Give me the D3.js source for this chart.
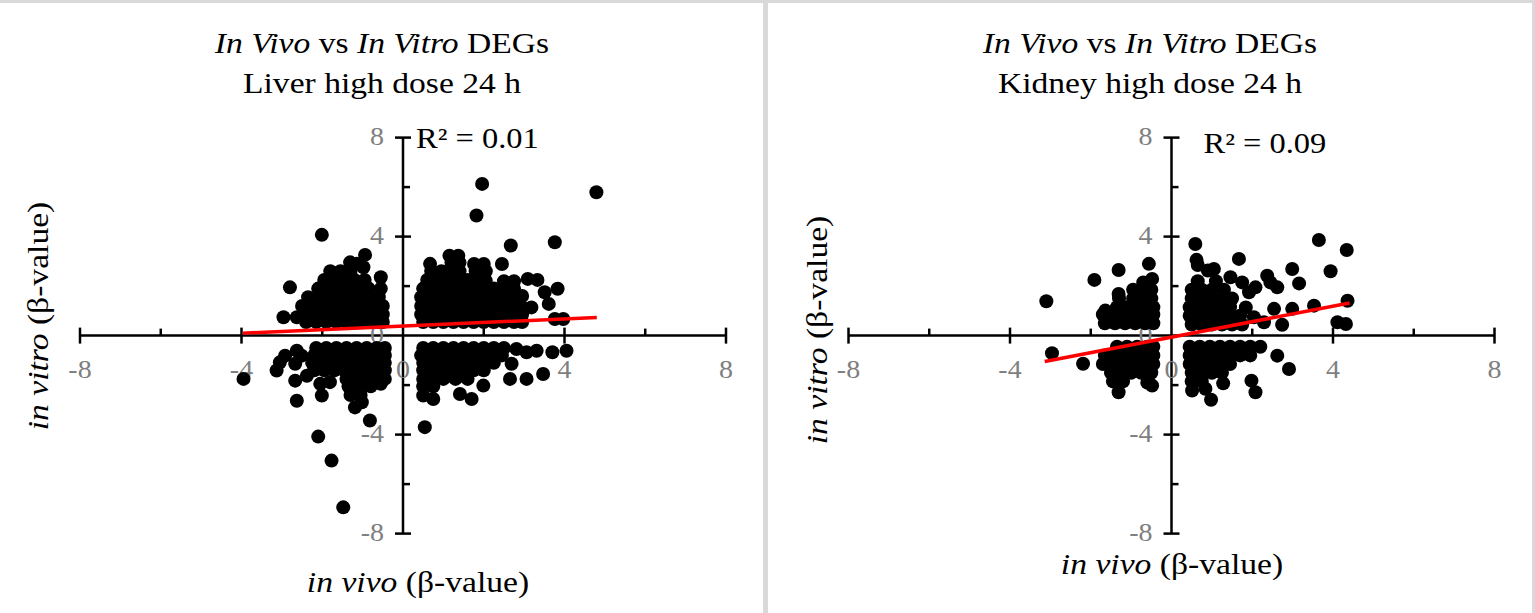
<!DOCTYPE html>
<html>
<head>
<meta charset="utf-8">
<script src="https://cdn.jsdelivr.net/npm/d3@7"></script>
<style>
    body{ margin:0; background:#fff; }
    svg text{ font-family:'Liberation Serif','Times New Roman',serif; }
</style>
</head>
<body>
<svg id="chart" width="1535" height="613"></svg>
<script>
// tick values shared by both panels
var labelTicks = [-8, -4, 0, 4, 8],
    minorTicks = [-6, -2, 2, 6],
    majorTicks = [-8, -4, 4, 8];

// liver high dose 24 h : [in vivo, in vitro]
var liverPoints = [
    [-2.40,0.55],[-2.15,0.55],[-1.90,0.55],[-1.65,0.55],[-1.40,0.55],[-1.15,0.55],[-0.90,0.55],[-0.65,0.55],[-0.50,0.55],
    [-2.45,0.85],[-2.20,0.85],[-1.95,0.85],[-1.70,0.85],[-1.45,0.85],[-1.20,0.85],[-0.95,0.85],[-0.70,0.85],[-0.50,0.85],
    [-2.50,1.20],[-2.25,1.20],[-2.00,1.20],[-1.75,1.20],[-1.50,1.20],[-1.25,1.20],[-1.00,1.20],[-0.75,1.20],[-0.50,1.20],
    [-2.35,1.55],[-2.10,1.55],[-1.85,1.55],[-1.60,1.55],[-1.35,1.55],[-1.10,1.55],[-0.85,1.55],[-0.60,1.55],
    [-2.10,1.90],[-1.85,1.90],[-1.60,1.90],[-1.35,1.90],[-1.10,1.90],[-0.85,1.90],[-0.55,1.90],
    [-1.95,2.25],[-1.70,2.25],[-1.45,2.25],[-1.20,2.25],[-0.95,2.25],[-0.55,2.36],
    [-1.80,2.60],[-1.55,2.60],[-1.30,2.60],[-0.98,2.76],
    [-1.31,2.96],[-1.15,2.90],[-0.94,3.26],
    [-2.96,0.74],[-2.63,0.74],[-2.80,1.95],[-2.01,4.07],
    [0.50,0.55],[0.75,0.55],[1.00,0.55],[1.25,0.55],[1.50,0.55],[1.75,0.55],[2.00,0.55],[2.25,0.55],[2.50,0.55],[2.75,0.55],[2.95,0.55],
    [0.45,0.85],[0.70,0.85],[0.95,0.85],[1.20,0.85],[1.45,0.85],[1.70,0.85],[1.95,0.85],[2.20,0.85],[2.45,0.85],[2.70,0.85],[2.95,0.85],
    [0.45,1.20],[0.70,1.20],[0.95,1.20],[1.20,1.20],[1.45,1.20],[1.70,1.20],[1.95,1.20],[2.20,1.20],[2.45,1.20],[2.70,1.20],[2.92,1.20],
    [0.45,1.55],[0.70,1.55],[0.95,1.55],[1.20,1.55],[1.45,1.55],[1.70,1.55],[1.95,1.55],[2.20,1.55],[2.45,1.55],[2.70,1.55],[2.95,1.60],
    [0.50,1.90],[0.75,1.90],[1.00,1.90],[1.25,1.90],[1.50,1.90],[1.75,1.90],[2.00,1.90],[2.25,1.90],[2.50,1.90],[2.75,1.90],
    [0.60,2.25],[0.85,2.25],[1.10,2.25],[1.35,2.25],[1.60,2.25],[1.85,2.25],[2.05,2.22],[2.50,2.20],[2.75,2.20],
    [0.70,2.60],[0.95,2.60],[1.15,2.65],[1.40,2.60],[1.80,2.60],[2.05,2.60],
    [0.67,2.90],[1.20,2.95],[1.40,2.95],[1.76,2.89],[2.00,2.89],[2.45,2.89],
    [1.15,3.23],[1.37,3.23],
    [1.96,6.13],[1.82,4.85],[2.67,3.64],[3.76,3.77],[4.79,5.79],[3.09,2.29],[3.33,2.25],[3.51,1.75],
    [3.83,1.89],[3.61,1.28],[3.18,1.14],[3.76,0.67],[3.97,0.67],
    [-2.15,-0.50],[-1.90,-0.50],[-1.65,-0.50],[-1.40,-0.50],[-1.15,-0.50],[-0.90,-0.50],[-0.65,-0.50],[-0.45,-0.50],
    [-2.20,-0.80],[-1.95,-0.80],[-1.70,-0.80],[-1.45,-0.80],[-1.20,-0.80],[-0.95,-0.80],[-0.70,-0.80],[-0.45,-0.80],
    [-2.25,-1.10],[-2.00,-1.10],[-1.75,-1.10],[-1.50,-1.10],[-1.25,-1.10],[-1.00,-1.10],[-0.75,-1.10],[-0.45,-1.10],
    [-2.20,-1.40],[-1.95,-1.40],[-1.70,-1.40],[-1.45,-1.40],[-1.20,-1.40],[-0.95,-1.40],[-0.70,-1.40],[-0.45,-1.40],
    [-1.40,-1.75],[-1.15,-1.75],[-0.90,-1.75],[-0.65,-1.75],[-0.45,-1.75],
    [-1.35,-2.05],[-1.10,-2.05],[-0.80,-2.05],[-0.55,-1.95],
    [-1.30,-2.40],[-1.05,-2.40],
    [-3.95,-1.75],[-3.13,-1.41],[-3.05,-1.08],[-2.92,-0.81],[-2.63,-0.61],[-2.51,-0.81],[-2.67,-1.14],
    [-2.67,-1.82],[-2.38,-1.62],[-2.63,-2.63],[-2.10,-4.08],[-1.77,-5.05],[-1.48,-6.94],[-0.82,-3.43],
    [-1.19,-2.90],[-1.02,-2.69],[-2.01,-2.42],[-2.05,-1.95],[-1.81,-1.88],
    [0.50,-0.50],[0.75,-0.50],[1.00,-0.50],[1.25,-0.50],[1.50,-0.50],[1.75,-0.50],[2.00,-0.50],[2.25,-0.50],[2.50,-0.50],
    [0.45,-0.80],[0.70,-0.80],[0.95,-0.80],[1.20,-0.80],[1.45,-0.80],[1.70,-0.80],[1.95,-0.80],[2.20,-0.80],[2.45,-0.80],
    [0.50,-1.10],[0.75,-1.10],[1.00,-1.10],[1.25,-1.10],[1.50,-1.10],[1.75,-1.10],[2.00,-1.10],[2.25,-1.10],
    [0.50,-1.40],[0.75,-1.40],[1.00,-1.40],[1.25,-1.40],[1.50,-1.40],[1.75,-1.40],[2.00,-1.40],
    [0.50,-1.75],[0.75,-1.75],[1.00,-1.75],[1.30,-1.75],[1.60,-1.75],
    [0.50,-2.05],[0.75,-2.05],
    [0.54,-3.70],[2.81,-0.54],[3.06,-0.67],[3.31,-0.61],[3.70,-0.67],[4.05,-0.61],[2.65,-1.75],[3.06,-1.75],
    [3.47,-1.55],[2.69,-1.14],[1.99,-2.02],[1.70,-2.56],[1.41,-2.36],[0.75,-2.56],[0.50,-2.42]
];
var liverTrendX = [-3.97, 4.80],
    liverTrendY = [0.10, 0.73];

// kidney high dose 24 h : [in vivo, in vitro]
var kidneyPoints = [
    [-1.65,0.50],[-1.40,0.50],[-1.15,0.50],[-0.90,0.50],[-0.65,0.50],[-0.45,0.50],
    [-1.70,0.85],[-1.45,0.85],[-1.20,0.85],[-0.95,0.85],[-0.70,0.85],[-0.45,0.85],
    [-1.35,1.15],[-1.10,1.15],[-0.85,1.15],[-0.60,1.15],[-0.45,1.15],
    [-1.30,1.50],[-0.95,1.50],[-0.70,1.50],[-0.50,1.50],
    [-0.95,1.85],[-0.70,1.85],[-0.50,1.85],
    [-0.70,2.15],[-0.48,2.29],
    [-3.10,1.39],[-1.91,2.25],[-1.31,2.65],[-0.56,2.90],[-1.64,1.01],[-1.31,1.68],
    [0.50,0.45],[0.75,0.45],[1.00,0.45],[1.25,0.45],[1.50,0.45],[1.75,0.45],
    [0.45,0.80],[0.70,0.80],[0.95,0.80],[1.20,0.80],[1.45,0.80],[1.70,0.80],
    [0.45,1.15],[0.70,1.15],[0.95,1.15],[1.20,1.15],[1.45,1.15],
    [0.50,1.50],[0.75,1.50],[1.00,1.50],[1.25,1.50],[1.50,1.50],
    [0.50,1.85],[0.75,1.85],[1.00,1.85],[1.30,1.85],
    [0.65,2.20],[1.10,2.20],
    [0.59,3.70],[0.62,3.06],[0.65,2.85],[1.05,2.69],[0.90,2.63],[1.67,3.10],[1.46,2.36],[1.75,2.15],
    [2.37,2.42],[2.99,2.69],[3.65,3.86],[4.34,3.46],[3.94,2.60],[3.16,2.11],[2.62,1.95],[2.45,2.15],
    [2.08,1.95],[1.92,1.75],[1.84,1.14],[2.54,1.08],[2.99,1.08],[3.53,1.21],[4.36,1.41],[4.11,0.54],
    [4.32,0.47],[2.74,0.44],[2.29,0.54],[2.04,0.74],
    [-1.35,-0.45],[-1.10,-0.45],[-0.85,-0.45],[-0.60,-0.45],[-0.45,-0.45],
    [-1.65,-0.80],[-1.40,-0.80],[-1.15,-0.80],[-0.90,-0.80],[-0.65,-0.80],[-0.45,-0.80],
    [-1.70,-1.15],[-1.45,-1.15],[-1.20,-1.15],[-0.95,-1.15],[-0.70,-1.15],[-0.45,-1.15],
    [-1.50,-1.50],[-1.25,-1.50],[-1.00,-1.50],[-0.75,-1.50],[-0.50,-1.50],
    [-1.45,-1.85],[-1.20,-1.85],[-0.60,-1.90],
    [-2.96,-0.71],[-2.19,-1.14],[-1.31,-2.29],[-0.48,-2.02],
    [0.45,-0.45],[0.70,-0.45],[0.95,-0.45],[1.20,-0.45],[1.45,-0.45],[1.70,-0.45],[1.95,-0.45],[2.20,-0.45],
    [0.45,-0.80],[0.70,-0.80],[0.95,-0.80],[1.20,-0.80],[1.45,-0.80],[1.70,-0.80],[1.95,-0.80],
    [0.45,-1.15],[0.70,-1.15],[0.95,-1.15],[1.20,-1.15],[1.45,-1.15],
    [0.50,-1.50],[0.75,-1.50],[1.00,-1.50],[1.25,-1.50],
    [0.50,-1.85],[0.75,-1.85],
    [2.62,-0.81],[2.91,-1.35],[1.98,-1.82],[2.08,-2.29],[1.28,-1.93],[0.98,-2.59],[0.51,-2.22],[0.84,-2.15]
];
var kidneyTrendX = [-3.14, 4.41],
    kidneyTrendY = [-1.05, 1.32];

var panelTitles = ['Liver high dose 24 h', 'Kidney high dose 24 h'],
    r2Labels = ['R\u00b2 = 0.01', 'R\u00b2 = 0.09'];

var svg = d3.select( '#chart' ),
    STRETCH = 1.12,
    GREY = '#7f7f7f';

// text is slightly wider than plain Times in the original
function stretchedText( parent, tx, ty, rotate, anchor, size ){
    var g = parent.append( 'g' )
        .attr( 'transform', 'translate(' + tx + ',' + ty + ')' + ( rotate ? ' rotate(' + rotate + ')' : '' ) + ' scale(' + STRETCH + ',1)' );

    return g.append( 'text' )
        .attr( 'text-anchor', anchor )
        .attr( 'font-size', size );
}

function tickLines( g, cls, values, x1, x2, y1, y2 ){
    g.selectAll( 'line.' + cls ).data( values ).enter().append( 'line' )
        .attr( 'class', cls )
        .attr( 'x1', x1 ).attr( 'x2', x2 )
        .attr( 'y1', y1 ).attr( 'y2', y2 )
        .attr( 'stroke', '#000' ).attr( 'stroke-width', 2.5 );
}

function drawPanel( cfg ){
    var x = d3.scaleLinear().domain( [-8, 8] ).range( [cfg.left, cfg.left + 646] ),
        y = d3.scaleLinear().domain( [-8, 8] ).range( [533.6, 137.6] ),
        g = svg.append( 'g' ),
        fx = function( d ){ return x(d); },
        fy = function( d ){ return y(d); },
        t;

    // axes through the origin
    g.append( 'line' )
        .attr( 'x1', x(-8) ).attr( 'x2', x(8) )
        .attr( 'y1', y(0) ).attr( 'y2', y(0) )
        .attr( 'stroke', '#000' ).attr( 'stroke-width', 2.5 );
    g.append( 'line' )
        .attr( 'x1', x(0) ).attr( 'x2', x(0) )
        .attr( 'y1', y(-8) ).attr( 'y2', y(8) )
        .attr( 'stroke', '#000' ).attr( 'stroke-width', 2.5 );

    // major ticks cross the axis, minor ticks sit on one side
    tickLines( g, 'xmaj', majorTicks, fx, fx, y(0) - 8, y(0) + 8 );
    tickLines( g, 'xmin', minorTicks, fx, fx, y(0) - 7, y(0) );
    tickLines( g, 'ymaj', majorTicks, x(0) - 8, x(0) + 8, fy, fy );
    tickLines( g, 'ymin', minorTicks, x(0), x(0) + 7, fy, fy );

    labelTicks.forEach( function( v ){
        stretchedText( g, x(v), y(0) + 42, 0, 'middle', 25 )
            .attr( 'fill', GREY ).text( v );
        stretchedText( g, x(0) - 19, y(v) + 7.5, 0, 'end', 25 )
            .attr( 'fill', GREY ).text( v );
    });

    // points
    g.selectAll( 'circle' ).data( cfg.points ).enter().append( 'circle' )
        .attr( 'cx', function( d ){ return x(d[0]); } )
        .attr( 'cy', function( d ){ return y(d[1]); } )
        .attr( 'r', 7 )
        .attr( 'fill', '#000' );

    // linear trend line
    g.append( 'line' )
        .attr( 'x1', x(cfg.trendX[0]) ).attr( 'y1', y(cfg.trendY[0]) )
        .attr( 'x2', x(cfg.trendX[1]) ).attr( 'y2', y(cfg.trendY[1]) )
        .attr( 'stroke', '#ff0000' ).attr( 'stroke-width', 3.5 );

    // titles
    t = stretchedText( g, cfg.titleX, 53, 0, 'middle', 30 );
    t.append( 'tspan' ).attr( 'font-style', 'italic' ).text( 'In Vivo' );
    t.append( 'tspan' ).text( ' vs ' );
    t.append( 'tspan' ).attr( 'font-style', 'italic' ).text( 'In Vitro' );
    t.append( 'tspan' ).text( ' DEGs' );
    stretchedText( g, cfg.titleX, 93, 0, 'middle', 30 ).text( cfg.title );

    stretchedText( g, cfg.r2X, cfg.r2Y, 0, 'start', 29 ).text( cfg.r2 );

    t = stretchedText( g, cfg.xTitleX, cfg.xTitleY, 0, 'middle', 30 );
    t.append( 'tspan' ).attr( 'font-style', 'italic' ).text( 'in vivo' );
    t.append( 'tspan' ).text( ' (\u03b2-value)' );

    t = stretchedText( g, cfg.yTitleX, cfg.yTitleY, -90, 'middle', 30 );
    t.append( 'tspan' ).attr( 'font-style', 'italic' ).text( 'in vitro' );
    t.append( 'tspan' ).text( ' (\u03b2-value)' );
}

// frame lines
svg.append( 'rect' ).attr( 'x', 0 ).attr( 'y', 0 ).attr( 'width', 1535 ).attr( 'height', 3 ).attr( 'fill', '#d9d9d9' );
svg.append( 'rect' ).attr( 'x', 763 ).attr( 'y', 0 ).attr( 'width', 5 ).attr( 'height', 613 ).attr( 'fill', '#d9d9d9' );
svg.append( 'rect' ).attr( 'x', 1532 ).attr( 'y', 0 ).attr( 'width', 3 ).attr( 'height', 613 ).attr( 'fill', '#d9d9d9' );

drawPanel({
    left: 80, points: liverPoints, trendX: liverTrendX, trendY: liverTrendY,
    title: panelTitles[0], titleX: 382, r2: r2Labels[0], r2X: 416, r2Y: 148,
    xTitleX: 418, xTitleY: 592, yTitleX: 48, yTitleY: 316
});
drawPanel({
    left: 848.5, points: kidneyPoints, trendX: kidneyTrendX, trendY: kidneyTrendY,
    title: panelTitles[1], titleX: 1150, r2: r2Labels[1], r2X: 1203.6, r2Y: 153,
    xTitleX: 1172, xTitleY: 573.5, yTitleX: 827, yTitleY: 330
});
</script>
</body>
</html>
